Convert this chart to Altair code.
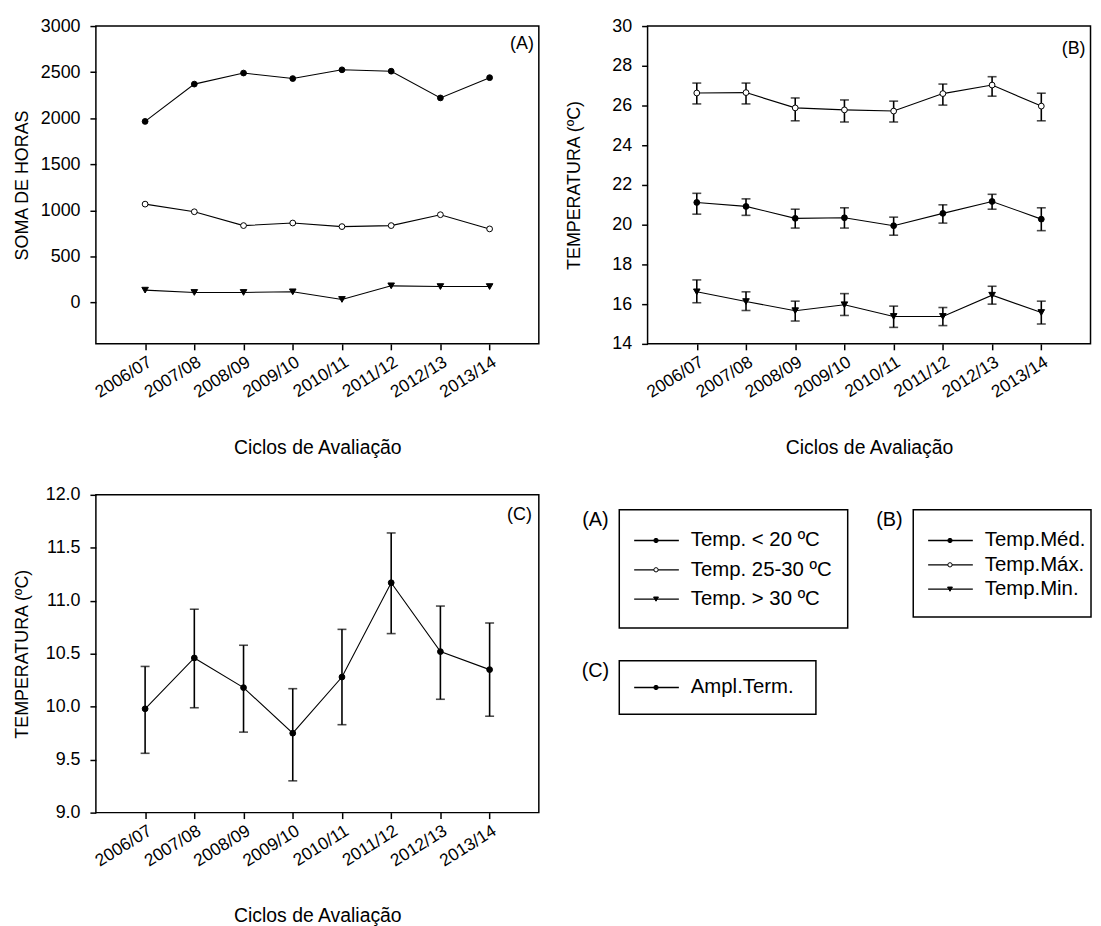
import altair as alt
import pandas as pd

# ---------------- data ----------------
cycles = ["2006/07", "2007/08", "2008/09", "2009/10", "2010/11", "2011/12", "2012/13", "2013/14"]
positions = [1, 2, 3, 4, 5, 6, 7, 8]

# Panel A: soma de horas
a_series = ["Temp. < 20 ºC", "Temp. 25-30 ºC", "Temp. > 30 ºC"]
a_lt20 = [1965, 2370, 2490, 2430, 2525, 2510, 2220, 2440]
a_25_30 = [1067, 984, 834, 862, 823, 834, 952, 798]
a_gt30 = [133, 108, 108, 115, 32, 180, 172, 172]

# Panel B: temperatures with error bars
b_series = ["Temp.Méd.", "Temp.Máx.", "Temp.Min."]
b_med = [21.12, 20.92, 20.32, 20.35, 19.95, 20.57, 21.17, 20.28]
b_med_lo = [20.53, 20.47, 19.83, 19.83, 19.47, 20.08, 20.78, 19.70]
b_med_hi = [21.58, 21.30, 20.78, 20.85, 20.38, 21.00, 21.53, 20.85]
b_max = [26.63, 26.65, 25.88, 25.78, 25.72, 26.60, 27.03, 25.97]
b_max_lo = [26.08, 26.08, 25.23, 25.17, 25.17, 26.02, 26.47, 25.23]
b_max_hi = [27.13, 27.13, 26.38, 26.28, 26.22, 27.08, 27.45, 26.62]
b_min = [16.62, 16.13, 15.67, 15.97, 15.38, 15.38, 16.45, 15.58]
b_min_lo = [16.07, 15.68, 15.15, 15.43, 14.83, 14.92, 16.00, 15.00]
b_min_hi = [17.22, 16.62, 16.15, 16.53, 15.90, 15.83, 16.90, 16.15]

# Panel C: amplitude térmica
c_series = ["Ampl.Term."]
c_amp = [9.98, 10.46, 10.18, 9.75, 10.28, 11.17, 10.52, 10.35]
c_lo = [9.56, 9.99, 9.76, 9.30, 9.83, 10.69, 10.07, 9.91]
c_hi = [10.38, 10.92, 10.58, 10.17, 10.73, 11.64, 10.95, 10.79]

# ---------------- styling ----------------
FONT = "Liberation Sans"
W, H = 446, 320
MARK = {
    a_series[0]: ("circle", "black"),
    a_series[1]: ("circle", "white"),
    a_series[2]: ("triangle-down", "black"),
    b_series[0]: ("circle", "black"),
    b_series[1]: ("circle", "white"),
    b_series[2]: ("triangle-down", "black"),
    c_series[0]: ("circle", "black"),
}
SIZE = {"circle": 34, "triangle-down": 44}

label_expr = "[" + ",".join(repr(c) for c in cycles) + "][datum.value - 1]"


def x_enc():
    return alt.X(
        "pos:Q",
        scale=alt.Scale(domain=[0, 9], nice=False, zero=False),
        axis=alt.Axis(values=positions, labelExpr=label_expr, labelAngle=-32,
                      title="Ciclos de Avaliação"),
    )


def y_enc(field, domain, values, title, fmt):
    return alt.Y(
        f"{field}:Q",
        scale=alt.Scale(domain=domain, nice=False, zero=False),
        axis=alt.Axis(values=values, title=title, format=fmt),
    )


def long_df(names, vals, los=None, his=None):
    rows = []
    for i, n in enumerate(names):
        for j, p in enumerate(positions):
            r = {"pos": p, "series": n, "v": vals[i][j],
                 "shape": MARK[n][0], "fill": MARK[n][1], "size": SIZE[MARK[n][0]]}
            if los is not None:
                r["lo"] = los[i][j]
                r["hi"] = his[i][j]
            rows.append(r)
    return pd.DataFrame(rows)


def panel(df, ydomain, yvalues, ytitle, fmt, tag, tag_x, tag_y, errors):
    base = alt.Chart(df)
    y = y_enc("v", ydomain, yvalues, ytitle, fmt)
    layers = [
        base.mark_line(color="black", strokeWidth=1.1).encode(x=x_enc(), y=y, detail="series:N")
    ]
    if errors:
        ylo = y_enc("lo", ydomain, yvalues, ytitle, fmt)
        yhi = y_enc("hi", ydomain, yvalues, ytitle, fmt)
        layers += [
            base.mark_rule(color="black", strokeWidth=1.6).encode(x=x_enc(), y=ylo, y2="hi:Q"),
            base.mark_tick(orient="horizontal", size=9, thickness=1.6, color="black").encode(x=x_enc(), y=ylo),
            base.mark_tick(orient="horizontal", size=9, thickness=1.6, color="black").encode(x=x_enc(), y=yhi),
        ]
    layers.append(
        base.mark_point(stroke="black", strokeWidth=1, opacity=1).encode(
            x=x_enc(), y=y,
            shape=alt.Shape("shape:N", scale=None),
            fill=alt.Fill("fill:N", scale=None),
            size=alt.Size("size:Q", scale=None),
        )
    )
    layers.append(
        alt.Chart(pd.DataFrame({"t": [tag]})).mark_text(
            align="right", baseline="middle", fontSize=18, font=FONT, color="black"
        ).encode(x=alt.value(tag_x), y=alt.value(tag_y), text="t:N")
    )
    return alt.layer(*layers).properties(width=W, height=H)


dfA = long_df(a_series, [a_lt20, a_25_30, a_gt30])
dfB = long_df(b_series, [b_med, b_max, b_min], [b_med_lo, b_max_lo, b_min_lo], [b_med_hi, b_max_hi, b_min_hi])
dfC = long_df(c_series, [c_amp], [c_lo], [c_hi])

chartA = panel(dfA, [-450, 3000], [0, 500, 1000, 1500, 2000, 2500, 3000], "SOMA DE HORAS", "d",
               "(A)", 441, 18, False)
chartB = panel(dfB, [14, 30], [14, 16, 18, 20, 22, 24, 26, 28, 30], "TEMPERATURA (ºC)", "d",
               "(B)", 441, 23, True)
chartC_main = panel(dfC, [9, 12], [9.0, 9.5, 10.0, 10.5, 11.0, 11.5, 12.0], "TEMPERATURA (ºC)", ".1f",
                    "(C)", 439, 20, True)

# ---------------- custom legends (drawn beside panel C) ----------------
# group: tag, names, box left/right/top/bottom, first entry y, entry step  (pixels relative to panel C)
groups = [
    ("(A)", a_series, 527, 757, 15, 134, 46, 29.5),
    ("(B)", b_series, 823, 1002, 15, 123, 46, 24.5),
    ("(C)", c_series, 527, 725, 167, 221, 194, 0),
]
box_rows, tag_rows, entry_rows = [], [], []
for tag, names, x0, x1, y0, y1, ey, step in groups:
    box_rows.append({"x0": x0, "x1": x1, "y0": y0, "y1": y1})
    tag_rows.append({"tx": x0 - 24, "ty": y0 + 10, "t": tag})
    for k, n in enumerate(names):
        entry_rows.append({
            "lx0": x0 + 15, "lx1": x0 + 60, "mx": x0 + 37, "tx": x0 + 72,
            "ly": ey + k * step, "label": n,
            "shape": MARK[n][0], "fill": MARK[n][1], "size": SIZE[MARK[n][0]] * 0.55,
        })
box_df = pd.DataFrame(box_rows)
tag_df = pd.DataFrame(tag_rows)
entry_df = pd.DataFrame(entry_rows)

legend_layers = [
    alt.Chart(box_df).mark_rect(fill="white", stroke="black", strokeWidth=1.5).encode(
        x=alt.X("x0:Q", scale=None), x2="x1:Q", y=alt.Y("y0:Q", scale=None), y2="y1:Q"),
    alt.Chart(tag_df).mark_text(align="center", baseline="middle", fontSize=20, font=FONT, color="black").encode(
        x=alt.X("tx:Q", scale=None), y=alt.Y("ty:Q", scale=None), text="t:N"),
    alt.Chart(entry_df).mark_rule(color="black", strokeWidth=1.3).encode(
        x=alt.X("lx0:Q", scale=None), x2="lx1:Q", y=alt.Y("ly:Q", scale=None)),
    alt.Chart(entry_df).mark_point(stroke="black", strokeWidth=1, opacity=1).encode(
        x=alt.X("mx:Q", scale=None), y=alt.Y("ly:Q", scale=None),
        shape=alt.Shape("shape:N", scale=None), fill=alt.Fill("fill:N", scale=None),
        size=alt.Size("size:Q", scale=None)),
    alt.Chart(entry_df).mark_text(align="left", baseline="middle", fontSize=20.5, font=FONT, color="black").encode(
        x=alt.X("tx:Q", scale=None), y=alt.Y("ly:Q", scale=None), text="label:N"),
]

chartC = alt.layer(chartC_main, *legend_layers)

chart = alt.vconcat(
    alt.hconcat(chartA, chartB, spacing=24.5),
    chartC,
    spacing=27,
).properties(
    padding={"left": 4.5, "top": 5, "right": 0, "bottom": 0}
).configure(
    font=FONT
).configure_view(
    stroke="black", strokeWidth=1.5
).configure_axis(
    domain=False, grid=False, tickSize=6, tickColor="black", tickWidth=1.5,
    labelFont=FONT, labelColor="black", titleFont=FONT, titleColor="black",
    titleFontWeight="normal", labelOverlap=False,
).configure_axisX(
    labelFontSize=17.5, labelPadding=3, minExtent=80, maxExtent=80, titlePadding=15,
    titleFontSize=19.5,
).configure_axisY(
    labelFontSize=18, labelPadding=10, minExtent=56, maxExtent=56, titlePadding=9,
    titleFontSize=18,
)

chart.save("out.html", embed_options={"renderer": "svg", "actions": False})
